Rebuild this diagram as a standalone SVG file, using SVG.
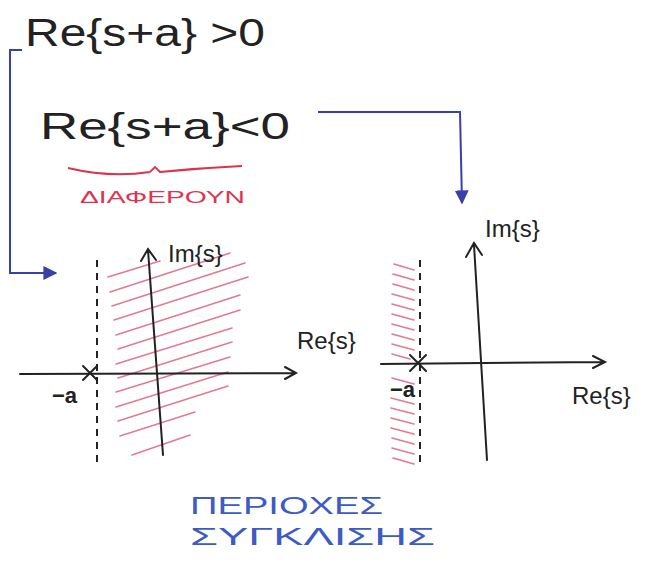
<svg xmlns="http://www.w3.org/2000/svg" width="654" height="563" viewBox="0 0 654 563">
<defs>
<style>
.ink{fill:#222;font-family:"Liberation Sans","DejaVu Sans",sans-serif}
.ax{stroke:#222;stroke-width:2;fill:none;stroke-linecap:round}
.dash{stroke:#222;stroke-width:2;stroke-dasharray:7 6;fill:none}
.hatch{stroke:#e27a95;stroke-width:1.6;fill:none;stroke-linecap:round}
.blue{stroke:#3b3fa8;stroke-width:2;fill:none}
.gr{font-family:"Liberation Sans","DejaVu Sans",sans-serif}
</style>
<marker id="tri" viewBox="0 0 10 10" refX="9" refY="5" markerWidth="7" markerHeight="7" orient="auto">
<path d="M0,0 L10,5 L0,10 z" fill="#3b3fa8"/>
</marker>
</defs>
<rect width="654" height="563" fill="#fff"/>

<g id="cond-pos">
<text class="ink" x="25" y="46" font-size="38" textLength="240" lengthAdjust="spacingAndGlyphs">Re{s+a} &gt;0</text>
</g>
<g id="cond-neg">
<text class="ink" x="40" y="139" font-size="37" textLength="250" lengthAdjust="spacingAndGlyphs">Re{s+a}&lt;0</text>
</g>
<g id="differ">
<path d="M68,168 Q110,178 150,172 L155,167 L160,172 Q200,168 242,166" stroke="#d8334f" stroke-width="1.8" fill="none"/>
<text class="gr" x="80" y="203" font-size="17" fill="#e0334f" textLength="165" lengthAdjust="spacingAndGlyphs">ΔΙΑΦΕΡΟΥΝ</text>
</g>

<g id="connectors">
<path class="blue" d="M22,50 L10,50 L10,273 L56,273" marker-end="url(#tri)"/>
<path class="blue" d="M318,112 L460,112 L462,203" marker-end="url(#tri)"/>
</g>

<g id="plane-left">
<g class="hatch">
<line x1="108" y1="277" x2="160" y2="261"/>
<line x1="110" y1="292" x2="230" y2="253"/>
<line x1="112" y1="306" x2="245" y2="263"/>
<line x1="114" y1="320" x2="248" y2="277"/>
<line x1="116" y1="335" x2="240" y2="295"/>
<line x1="118" y1="349" x2="240" y2="310"/>
<line x1="116" y1="364" x2="232" y2="328"/>
<line x1="118" y1="378" x2="232" y2="342"/>
<line x1="116" y1="392" x2="230" y2="357"/>
<line x1="116" y1="407" x2="228" y2="372"/>
<line x1="118" y1="421" x2="228" y2="386"/>
<line x1="120" y1="436" x2="195" y2="412"/>
<line x1="132" y1="455" x2="190" y2="435"/>
</g>
<line class="dash" x1="97" y1="260" x2="97" y2="462"/>
<path class="ax" d="M20,374 L295,373 M285,367 L296,373 L285,379"/>
<path class="ax" d="M163,455 L148,250 M141,261 L148,249 L156,260"/>
<path class="ax" d="M83,366 L97,380 M97,366 L83,380" stroke-width="2.6"/>
<text class="ink" x="52" y="403" font-size="22" font-weight="bold">−a</text>
<text class="ink" x="168" y="262" font-size="24">Im{s}</text>
<text class="ink" x="297" y="349" font-size="24">Re{s}</text>
</g>

<g id="plane-right">
<g class="hatch">
<line x1="394" y1="264" x2="414" y2="270"/>
<line x1="393" y1="274" x2="414" y2="280"/>
<line x1="393" y1="284" x2="414" y2="290"/>
<line x1="392" y1="294" x2="414" y2="300"/>
<line x1="392" y1="304" x2="414" y2="310"/>
<line x1="392" y1="314" x2="414" y2="320"/>
<line x1="392" y1="324" x2="414" y2="330"/>
<line x1="392" y1="334" x2="414" y2="340"/>
<line x1="392" y1="344" x2="414" y2="350"/>
<line x1="392" y1="354" x2="410" y2="359"/>
<line x1="392" y1="378" x2="414" y2="384"/>
<line x1="391" y1="398" x2="414" y2="404"/>
<line x1="391" y1="408" x2="414" y2="414"/>
<line x1="391" y1="418" x2="414" y2="424"/>
<line x1="391" y1="428" x2="414" y2="434"/>
<line x1="392" y1="438" x2="414" y2="444"/>
<line x1="392" y1="448" x2="414" y2="454"/>
<line x1="393" y1="458" x2="414" y2="464"/>
</g>
<line class="dash" x1="420" y1="260" x2="420" y2="466"/>
<path class="ax" d="M381,364 L604,362 M593,356 L605,362 L593,368"/>
<path class="ax" d="M487,460 L474,245 M466,257 L474,243 L482,255"/>
<path class="ax" d="M410,355 L426,371 M426,355 L410,371" stroke-width="3"/>
<text class="ink" x="390" y="397" font-size="22" font-weight="bold">−a</text>
<text class="ink" x="485" y="237" font-size="24">Im{s}</text>
<text class="ink" x="572" y="404" font-size="24">Re{s}</text>
</g>

<g id="regions">
<text class="gr" x="190" y="514" font-size="24" fill="#3d5bc2" textLength="193" lengthAdjust="spacingAndGlyphs">ΠΕΡΙΟΧΕΣ</text>
<text class="gr" x="190" y="545" font-size="24" fill="#3d5bc2" textLength="245" lengthAdjust="spacingAndGlyphs">ΣΥΓΚΛΙΣΗΣ</text>
</g>
</svg>
